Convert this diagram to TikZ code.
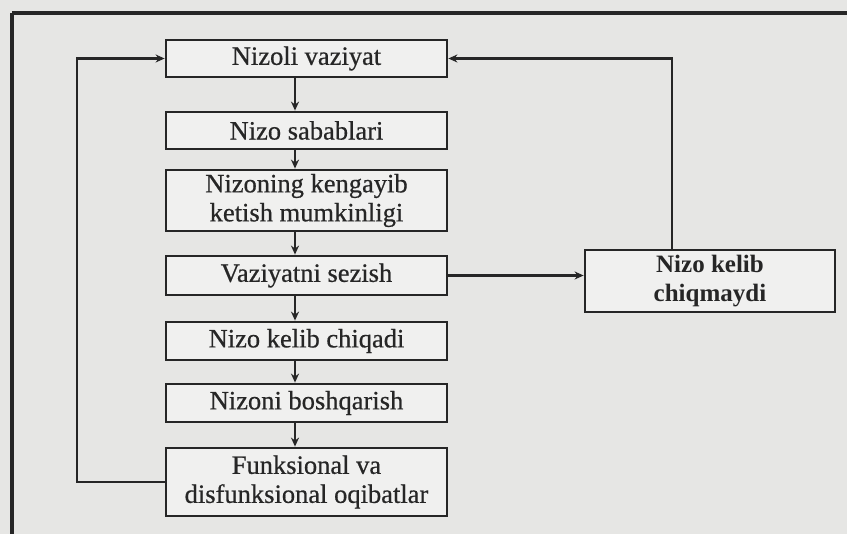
\documentclass[tikz,border=0pt]{standalone}
\usepackage{fontspec}
\setmainfont{Liberation Serif}
\newfontfamily\printfont[FakeBold=0.6]{Liberation Serif}
\usetikzlibrary{arrows.meta}
\definecolor{paper}{HTML}{E6E6E4}
\definecolor{ink}{HTML}{262626}
\begin{document}
\begin{tikzpicture}[x=1pt,y=-1pt,
  stagebox/.style={draw=ink, line width=2.8pt, fill=paper!60!white, minimum width=281pt, inner sep=0pt,
    align=center, font=\printfont\fontsize{26.5}{29}\selectfont, text=ink},
  sidebox/.style={draw=ink, line width=2.8pt, fill=paper!60!white, minimum width=250pt, minimum height=62pt, inner sep=0pt,
    align=center, font=\bfseries\fontsize{25}{29}\selectfont, text=ink},
  conn/.style={draw=ink, line width=2.4pt},
  arr/.style={conn, -{Stealth[length=9pt,width=8pt]}}]
\fill[paper] (0,0) rectangle (847,534);
\useasboundingbox (0,0) rectangle (847,534);
% frame lines of the page
\draw[ink, line width=3.5pt] (12,13) -- (847,13);
\draw[ink, line width=3.5pt] (12,13) -- (12,534);
% stages
\node[stagebox, minimum height=37pt] (b1) at (306.5,58.5) {Nizoli vaziyat};
\node[stagebox, minimum height=37pt] (b2) at (306.5,130.5) {Nizo sabablari};
\node[stagebox, minimum height=61pt] (b3) at (306.5,200.5) {Nizoning kengayib\\ketish mumkinligi};
\node[stagebox, minimum height=39pt] (b4) at (306.5,275.5) {Vaziyatni sezish};
\node[stagebox, minimum height=38pt] (b5) at (306.5,341) {Nizo kelib chiqadi};
\node[stagebox, minimum height=38pt] (b6) at (306.5,403) {Nizoni boshqarish};
\node[stagebox, minimum height=68pt] (b7) at (306.5,482) {Funksional va\\disfunksional oqibatlar};
\node[sidebox] (r) at (710,281) {Nizo kelib\\chiqmaydi};
% helper coordinates
\coordinate (ax) at (295,0);
\coordinate (lf) at (77,0);
\coordinate (rf) at (672,0);
% vertical arrows
\draw[arr] (b1.south -| ax) -- (b2.north -| ax);
\draw[arr] (b2.south -| ax) -- (b3.north -| ax);
\draw[arr] (b3.south -| ax) -- (b4.north -| ax);
\draw[arr] (b4.south -| ax) -- (b5.north -| ax);
\draw[arr] (b5.south -| ax) -- (b6.north -| ax);
\draw[arr] (b6.south -| ax) -- (b7.north -| ax);
% side branch
\draw[arr] (b4.east) -- (b4.east -| r.west);
% feedback loops
\draw[arr] (b7.west) -- (b7.west -| lf) |- (b1.west);
\draw[arr] (r.north -| rf) |- (b1.east);
\end{tikzpicture}
\end{document}
